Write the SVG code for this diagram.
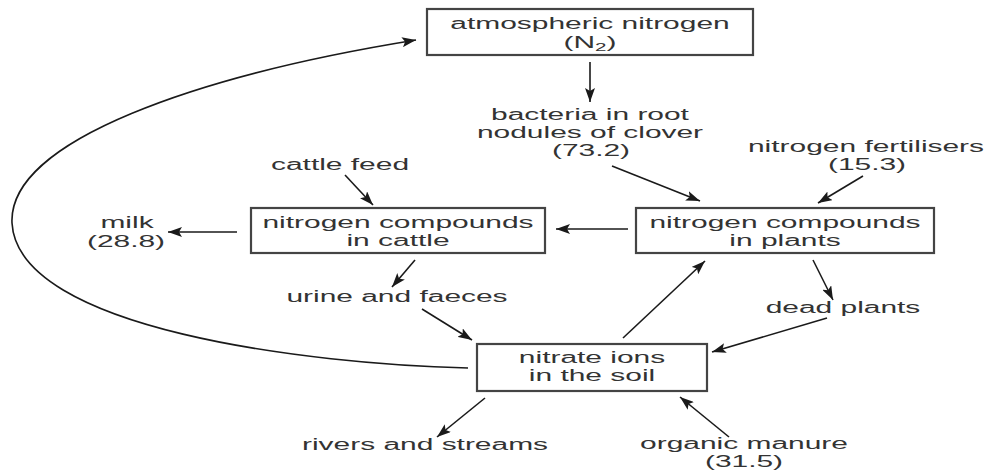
<svg xmlns="http://www.w3.org/2000/svg" width="987" height="472" viewBox="0 0 987 472">
<defs>
<marker id="ah" viewBox="0 0 14 10" refX="14" refY="5" markerWidth="14" markerHeight="10" markerUnits="userSpaceOnUse" orient="auto">
<path d="M0,0 L14,5 L0,10 L3,5 z" fill="#1a1a1a"/>
</marker>
</defs>
<style>
.box{fill:#fff;stroke:#444;stroke-width:2.2}
.t{font-family:"Liberation Sans",Arial,sans-serif;font-size:16px;fill:#333;text-anchor:middle}
.c{fill:none;stroke:#1a1a1a;stroke-width:1.6;marker-end:url(#ah)}
</style>
<rect width="987" height="472" fill="#fff"/>
<g id="connectors">
<path class="c" d="M590,62 L590,102"/>
<path class="c" d="M612,166 L700,201"/>
<path class="c" d="M863,176 L818,203"/>
<path class="c" d="M628,229 L556,229"/>
<path class="c" d="M345,175 L373,205"/>
<path class="c" d="M237,232 L168,232"/>
<path class="c" d="M415,260 L392,287"/>
<path class="c" d="M422,309 L472,340"/>
<path class="c" d="M813,260 L833,300"/>
<path class="c" d="M827,318 L712,352"/>
<path class="c" d="M623,338 L705,261"/>
<path class="c" d="M485,398 L437,437"/>
<path class="c" d="M729,437 L680,397"/>
<path class="c" d="M468,368 C310,364 18,330 12,223 C8,140 200,75 416,40"/>
</g>
<g id="atmospheric-nitrogen">
<rect class="box" x="427" y="9" width="326" height="46"/>
<text class="t" transform="translate(590,29) scale(1.87,1)">atmospheric nitrogen</text>
<text class="t" transform="translate(590,48) scale(1.87,1)">(N<tspan font-size="11" dy="3">2</tspan><tspan dy="-3">)</tspan></text>
</g>
<g id="bacteria">
<text class="t" transform="translate(590,120) scale(1.87,1)">bacteria in root</text>
<text class="t" transform="translate(590,138) scale(1.87,1)">nodules of clover</text>
<text class="t" transform="translate(591,156) scale(1.87,1)">(73.2)</text>
</g>
<g id="fertilisers">
<text class="t" transform="translate(866,152) scale(1.87,1)">nitrogen fertilisers</text>
<text class="t" transform="translate(867,170) scale(1.87,1)">(15.3)</text>
</g>
<g id="cattle-feed">
<text class="t" transform="translate(340,170) scale(1.87,1)">cattle feed</text>
</g>
<g id="plants">
<rect class="box" x="636" y="208" width="298" height="45"/>
<text class="t" transform="translate(785,228) scale(1.87,1)">nitrogen compounds</text>
<text class="t" transform="translate(785,246) scale(1.87,1)">in plants</text>
</g>
<g id="cattle">
<rect class="box" x="251" y="208" width="294" height="45"/>
<text class="t" transform="translate(398,228) scale(1.87,1)">nitrogen compounds</text>
<text class="t" transform="translate(398,246) scale(1.87,1)">in cattle</text>
</g>
<g id="milk">
<text class="t" transform="translate(127,228) scale(1.87,1)">milk</text>
<text class="t" transform="translate(126,247) scale(1.87,1)">(28.8)</text>
</g>
<g id="urine">
<text class="t" transform="translate(397,302) scale(1.87,1)">urine and faeces</text>
</g>
<g id="dead-plants">
<text class="t" transform="translate(843,313) scale(1.87,1)">dead plants</text>
</g>
<g id="soil">
<rect class="box" x="477" y="344" width="230" height="47"/>
<text class="t" transform="translate(592,363) scale(1.87,1)">nitrate ions</text>
<text class="t" transform="translate(592,381) scale(1.87,1)">in the soil</text>
</g>
<g id="rivers">
<text class="t" transform="translate(425,450) scale(1.87,1)">rivers and streams</text>
</g>
<g id="manure">
<text class="t" transform="translate(744,449) scale(1.87,1)">organic manure</text>
<text class="t" transform="translate(744,467) scale(1.87,1)">(31.5)</text>
</g>
</svg>
